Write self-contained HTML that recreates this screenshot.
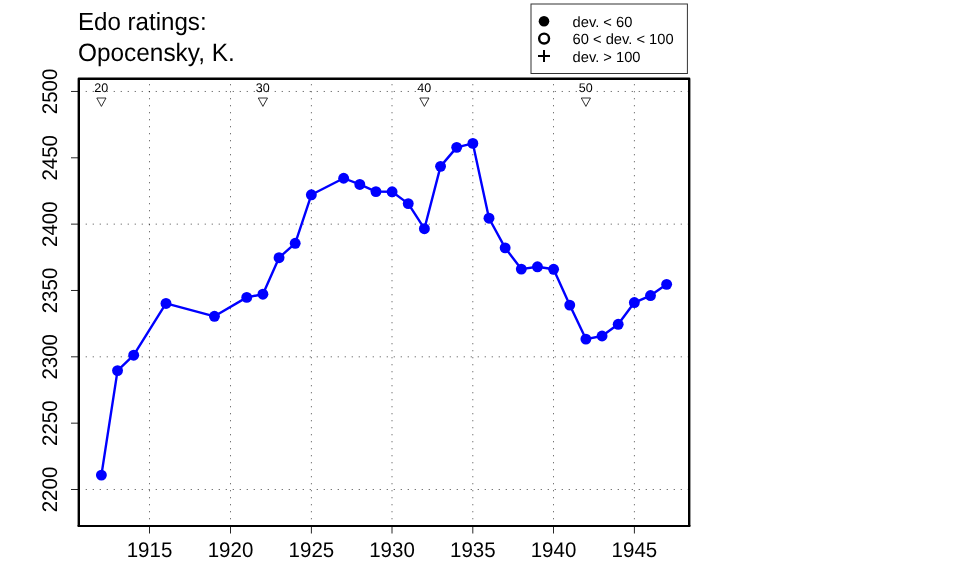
<!DOCTYPE html><html><head><meta charset="utf-8"><title>Edo ratings: Opocensky, K.</title><style>html,body{margin:0;padding:0;background:#fff}svg{display:block;will-change:transform}text{font-family:"Liberation Sans",Arial,sans-serif;text-rendering:geometricPrecision}</style></head><body>
<svg width="960" height="576" viewBox="0 0 960 576">
<rect width="960" height="576" fill="#fff"/>
<text transform="translate(78 30) scale(1 1.03)" font-size="24.1">Edo ratings:</text>
<text transform="translate(78 61) scale(1 1.03)" font-size="24.4">Opocensky, K.</text>
<path d="M149.5 526V79 M230.5 526V79 M311.4 526V79 M392.0 526V79 M472.8 526V79 M553.5 526V79 M634.4 526V79 M79 489.50H689 M79 356.82H689 M79 224.14H689 M79 91.46H689" fill="none" stroke="#000" stroke-width="1" stroke-dasharray="1.2 5.8" stroke-dashoffset="0.3" opacity="0.6"/>
<path d="M149.5 526V533.5 M230.5 526V533.5 M311.4 526V533.5 M392.0 526V533.5 M472.8 526V533.5 M553.5 526V533.5 M634.4 526V533.5 M79 489.50H71 M79 423.16H71 M79 356.82H71 M79 290.48H71 M79 224.14H71 M79 157.80H71 M79 91.46H71" fill="none" stroke="#000" stroke-width="1" opacity="0.85"/>
<path d="M78.8 526V78.8H689.2V526" fill="none" stroke="#000" stroke-width="2.4" stroke-linejoin="round"/>
<path d="M77.6 526H690.4" fill="none" stroke="#000" stroke-width="2.15"/>
<text transform="translate(149.5 557) scale(1 1.035)" font-size="20.5" text-anchor="middle">1915</text>
<text transform="translate(230.5 557) scale(1 1.035)" font-size="20.5" text-anchor="middle">1920</text>
<text transform="translate(311.4 557) scale(1 1.035)" font-size="20.5" text-anchor="middle">1925</text>
<text transform="translate(392.0 557) scale(1 1.035)" font-size="20.5" text-anchor="middle">1930</text>
<text transform="translate(472.8 557) scale(1 1.035)" font-size="20.5" text-anchor="middle">1935</text>
<text transform="translate(553.5 557) scale(1 1.035)" font-size="20.5" text-anchor="middle">1940</text>
<text transform="translate(634.4 557) scale(1 1.035)" font-size="20.5" text-anchor="middle">1945</text>
<text transform="translate(56.9 489.50) rotate(-90) scale(1 1.035)" font-size="20.5" text-anchor="middle">2200</text>
<text transform="translate(56.9 423.16) rotate(-90) scale(1 1.035)" font-size="20.5" text-anchor="middle">2250</text>
<text transform="translate(56.9 356.82) rotate(-90) scale(1 1.035)" font-size="20.5" text-anchor="middle">2300</text>
<text transform="translate(56.9 290.48) rotate(-90) scale(1 1.035)" font-size="20.5" text-anchor="middle">2350</text>
<text transform="translate(56.9 224.14) rotate(-90) scale(1 1.035)" font-size="20.5" text-anchor="middle">2400</text>
<text transform="translate(56.9 157.80) rotate(-90) scale(1 1.035)" font-size="20.5" text-anchor="middle">2450</text>
<text transform="translate(56.9 91.46) rotate(-90) scale(1 1.035)" font-size="20.5" text-anchor="middle">2500</text>
<text x="101.20" y="91.9" font-size="12.5" text-anchor="middle">20</text>
<path d="M96.80 98H106.00L101.40 106.4Z" fill="none" stroke="#000" stroke-width="1" stroke-linejoin="round" opacity="0.8"/>
<text x="262.70" y="91.9" font-size="12.5" text-anchor="middle">30</text>
<path d="M258.30 98H267.50L262.90 106.4Z" fill="none" stroke="#000" stroke-width="1" stroke-linejoin="round" opacity="0.8"/>
<text x="424.20" y="91.9" font-size="12.5" text-anchor="middle">40</text>
<path d="M419.80 98H429.00L424.40 106.4Z" fill="none" stroke="#000" stroke-width="1" stroke-linejoin="round" opacity="0.8"/>
<text x="585.70" y="91.9" font-size="12.5" text-anchor="middle">50</text>
<path d="M581.30 98H590.50L585.90 106.4Z" fill="none" stroke="#000" stroke-width="1" stroke-linejoin="round" opacity="0.8"/>
<path d="M101.40 475.1 L117.55 370.6 L133.70 355.2 L166.00 303.45 L214.45 316.3 L246.75 297.4 L262.90 294.2 L279.05 257.7 L295.20 243.3 L311.35 194.8 L343.65 178.25 L359.80 184.45 L375.95 191.6 L392.10 191.8 L408.25 203.6 L424.40 228.7 L440.55 166.35 L456.70 147.35 L472.85 143.4 L489.00 218.2 L505.15 247.85 L521.30 269.1 L537.45 266.8 L553.60 269.3 L569.75 305.1 L585.90 339.1 L602.05 336.0 L618.20 324.3 L634.35 302.55 L650.50 295.55 L666.65 284.35" fill="none" stroke="#0000ff" stroke-width="2.4" stroke-linejoin="round"/>
<circle cx="101.40" cy="475.1" r="5.45" fill="#0000ff"/>
<circle cx="117.55" cy="370.6" r="5.45" fill="#0000ff"/>
<circle cx="133.70" cy="355.2" r="5.45" fill="#0000ff"/>
<circle cx="166.00" cy="303.45" r="5.45" fill="#0000ff"/>
<circle cx="214.45" cy="316.3" r="5.45" fill="#0000ff"/>
<circle cx="246.75" cy="297.4" r="5.45" fill="#0000ff"/>
<circle cx="262.90" cy="294.2" r="5.45" fill="#0000ff"/>
<circle cx="279.05" cy="257.7" r="5.45" fill="#0000ff"/>
<circle cx="295.20" cy="243.3" r="5.45" fill="#0000ff"/>
<circle cx="311.35" cy="194.8" r="5.45" fill="#0000ff"/>
<circle cx="343.65" cy="178.25" r="5.45" fill="#0000ff"/>
<circle cx="359.80" cy="184.45" r="5.45" fill="#0000ff"/>
<circle cx="375.95" cy="191.6" r="5.45" fill="#0000ff"/>
<circle cx="392.10" cy="191.8" r="5.45" fill="#0000ff"/>
<circle cx="408.25" cy="203.6" r="5.45" fill="#0000ff"/>
<circle cx="424.40" cy="228.7" r="5.45" fill="#0000ff"/>
<circle cx="440.55" cy="166.35" r="5.45" fill="#0000ff"/>
<circle cx="456.70" cy="147.35" r="5.45" fill="#0000ff"/>
<circle cx="472.85" cy="143.4" r="5.45" fill="#0000ff"/>
<circle cx="489.00" cy="218.2" r="5.45" fill="#0000ff"/>
<circle cx="505.15" cy="247.85" r="5.45" fill="#0000ff"/>
<circle cx="521.30" cy="269.1" r="5.45" fill="#0000ff"/>
<circle cx="537.45" cy="266.8" r="5.45" fill="#0000ff"/>
<circle cx="553.60" cy="269.3" r="5.45" fill="#0000ff"/>
<circle cx="569.75" cy="305.1" r="5.45" fill="#0000ff"/>
<circle cx="585.90" cy="339.1" r="5.45" fill="#0000ff"/>
<circle cx="602.05" cy="336.0" r="5.45" fill="#0000ff"/>
<circle cx="618.20" cy="324.3" r="5.45" fill="#0000ff"/>
<circle cx="634.35" cy="302.55" r="5.45" fill="#0000ff"/>
<circle cx="650.50" cy="295.55" r="5.45" fill="#0000ff"/>
<circle cx="666.65" cy="284.35" r="5.45" fill="#0000ff"/>
<rect x="531" y="4" width="156.4" height="69.5" fill="#fff" stroke="#333" stroke-width="1"/>
<circle cx="544" cy="21.3" r="5.3" fill="#000"/>
<circle cx="544.1" cy="38.6" r="4.95" fill="none" stroke="#000" stroke-width="2.4"/>
<path d="M538 56H550M544 50V62" stroke="#000" stroke-width="2"/>
<text x="572.6" y="26.9" font-size="14.7">dev. &lt; 60</text>
<text x="572.6" y="43.8" font-size="14.7">60 &lt; dev. &lt; 100</text>
<text x="572.6" y="61.6" font-size="14.7">dev. &gt; 100</text>
</svg></body></html>
